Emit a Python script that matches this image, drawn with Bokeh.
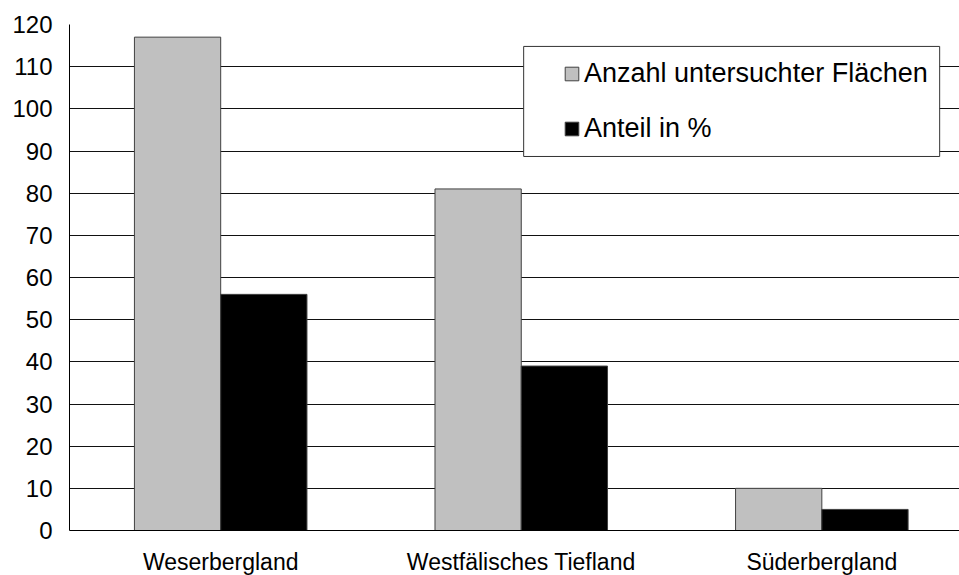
from bokeh.plotting import figure
from bokeh.models import Legend, LegendItem, BoxAnnotation, FixedTicker, ColumnDataSource, Range1d
from bokeh.transform import dodge
from bokeh.embed import file_html
from bokeh.resources import INLINE

regions = ["Weserbergland", "Westfälisches Tiefland", "Süderbergland"]
anzahl = [117, 81, 10]
anteil = [56, 39, 5]
y_ticks = list(range(0, 121, 10))
series_names = ["Anzahl untersuchter Flächen", "Anteil in %"]

pos = [i + 0.5 for i in range(len(regions))]
bar_w = 0.287
src = ColumnDataSource(dict(pos=pos, anzahl=anzahl, anteil=anteil))

FONT = "Liberation Sans"

p = figure(width=959, height=581, output_backend="svg", toolbar_location=None,
           x_range=Range1d(-0.003, 2.958), y_range=Range1d(0, 120),
           min_border_left=69, min_border_right=0, min_border_top=24, min_border_bottom=51)
p.outline_line_color = None
p.background_fill_color = "white"

r1 = p.vbar(x=dodge("pos", -bar_w / 2, range=p.x_range), top="anzahl", width=bar_w, source=src,
            fill_color="#C0C0C0", line_color="#404040", line_width=1)
r2 = p.vbar(x=dodge("pos", bar_w / 2, range=p.x_range), top="anteil", width=bar_w, source=src,
            fill_color="#000000", line_color="#404040", line_width=1)

p.xgrid.visible = False
p.ygrid.ticker = FixedTicker(ticks=y_ticks)
p.ygrid.grid_line_color = "#111111"
p.ygrid.grid_line_width = 1

p.yaxis.ticker = FixedTicker(ticks=y_ticks)
p.xaxis.ticker = FixedTicker(ticks=pos)
p.xaxis.major_label_overrides = {pp: r for pp, r in zip(pos, regions)}
for ax in (p.xaxis, p.yaxis):
    ax.major_tick_in = 0
    ax.major_tick_out = 0
    ax.minor_tick_in = 0
    ax.minor_tick_out = 0
    ax.axis_line_color = "#000000"
    ax.axis_line_width = 1
    ax.major_label_text_font = FONT
    ax.major_label_text_color = "#000000"
p.yaxis.major_label_text_font_size = "24px"
p.yaxis.major_label_standoff = 17
p.xaxis.major_label_text_font_size = "23px"
p.xaxis.major_label_standoff = 18

box = BoxAnnotation(left=1.508, right=2.892, top=114.8, bottom=88.7,
                    fill_color="white", fill_alpha=1.0, line_color="#333333", line_width=1,
                    line_alpha=1.0)
p.add_layout(box)

legend = Legend(items=[LegendItem(label=series_names[0], renderers=[r1]),
                       LegendItem(label=series_names[1], renderers=[r2])],
                location=(494, 386), orientation="vertical")
legend.border_line_color = None
legend.background_fill_alpha = 0
legend.padding = 0
legend.margin = 0
legend.spacing = 24
legend.glyph_width = 17
legend.glyph_height = 17
legend.label_height = 31
legend.label_standoff = 4
legend.label_text_font = FONT
legend.label_text_font_size = "27px"
legend.label_text_color = "#000000"
p.add_layout(legend, "center")

open("out.html", "w").write(file_html(p, INLINE))
